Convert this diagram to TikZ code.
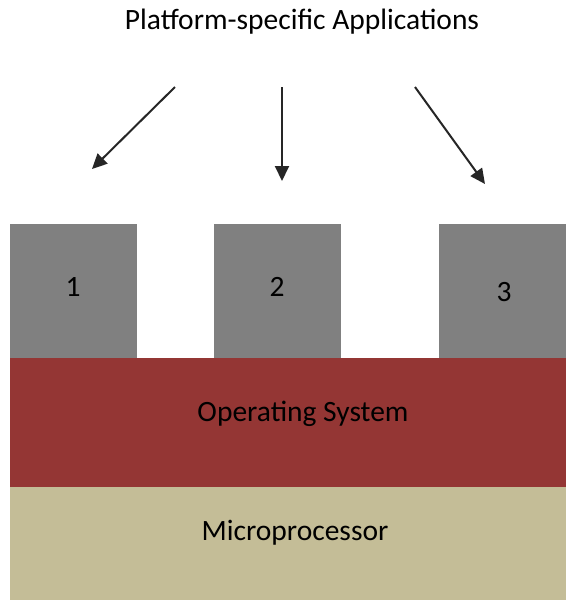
\documentclass[tikz,border=0pt]{standalone}
\usepackage{fontspec}
\setmainfont{Carlito}
\usetikzlibrary{arrows.meta}
\definecolor{appgray}{HTML}{808080}
\definecolor{osred}{HTML}{943634}
\definecolor{cputan}{HTML}{C4BD97}
\definecolor{arrowink}{HTML}{262626}
\begin{document}
\begin{tikzpicture}[x=1pt,y=-1pt,
  layer/.style={draw=none,inner sep=0pt,outer sep=0pt,anchor=north west},
  appbox/.style={fill=appgray,draw=none,inner sep=0pt,outer sep=0pt,anchor=north west,minimum width=127pt,minimum height=134pt},
  lbl/.style={font=\fontsize{29.5}{34}\selectfont,text=black,inner sep=0pt},
  apparrow/.style={draw=arrowink,line width=2pt,-{Triangle[length=15pt,width=14pt]}}]
\useasboundingbox (0,0) rectangle (568,606);
\fill[white] (0,0) rectangle (568,606);
\node[lbl] (title) at (302,22) {Platform-specific Applications};
% arrows
\coordinate (a1s) at (175,87);
\coordinate (a1e) at (92,169);
\coordinate (a2s) at (282,87);
\coordinate (a2e) at (282,181);
\coordinate (a3s) at (415,87);
\coordinate (a3e) at (485,184);
\draw[apparrow] (a1s) -- (a1e);
\draw[apparrow] (a2s) -- (a2e);
\draw[apparrow] (a3s) -- (a3e);
% app boxes
\node[appbox] (b1) at (10,224) {};
\node[appbox] (b2) at (214,224) {};
\node[appbox] (b3) at (439,224) {};
\node[lbl] (n1) at (73,287) {1};
\node[lbl] (n2) at (277,287) {2};
\node[lbl] (n3) at (504,292) {3};
% layers
\node[layer,fill=osred,minimum width=556pt,minimum height=129pt] (os) at (10,358) {};
\node[lbl] (oslbl) at (303,414) {Operating System};
\node[layer,fill=cputan,minimum width=556pt,minimum height=113pt] (cpu) at (10,487) {};
\node[lbl] (cpulbl) at (295,533) {Microprocessor};
\end{tikzpicture}
\end{document}
